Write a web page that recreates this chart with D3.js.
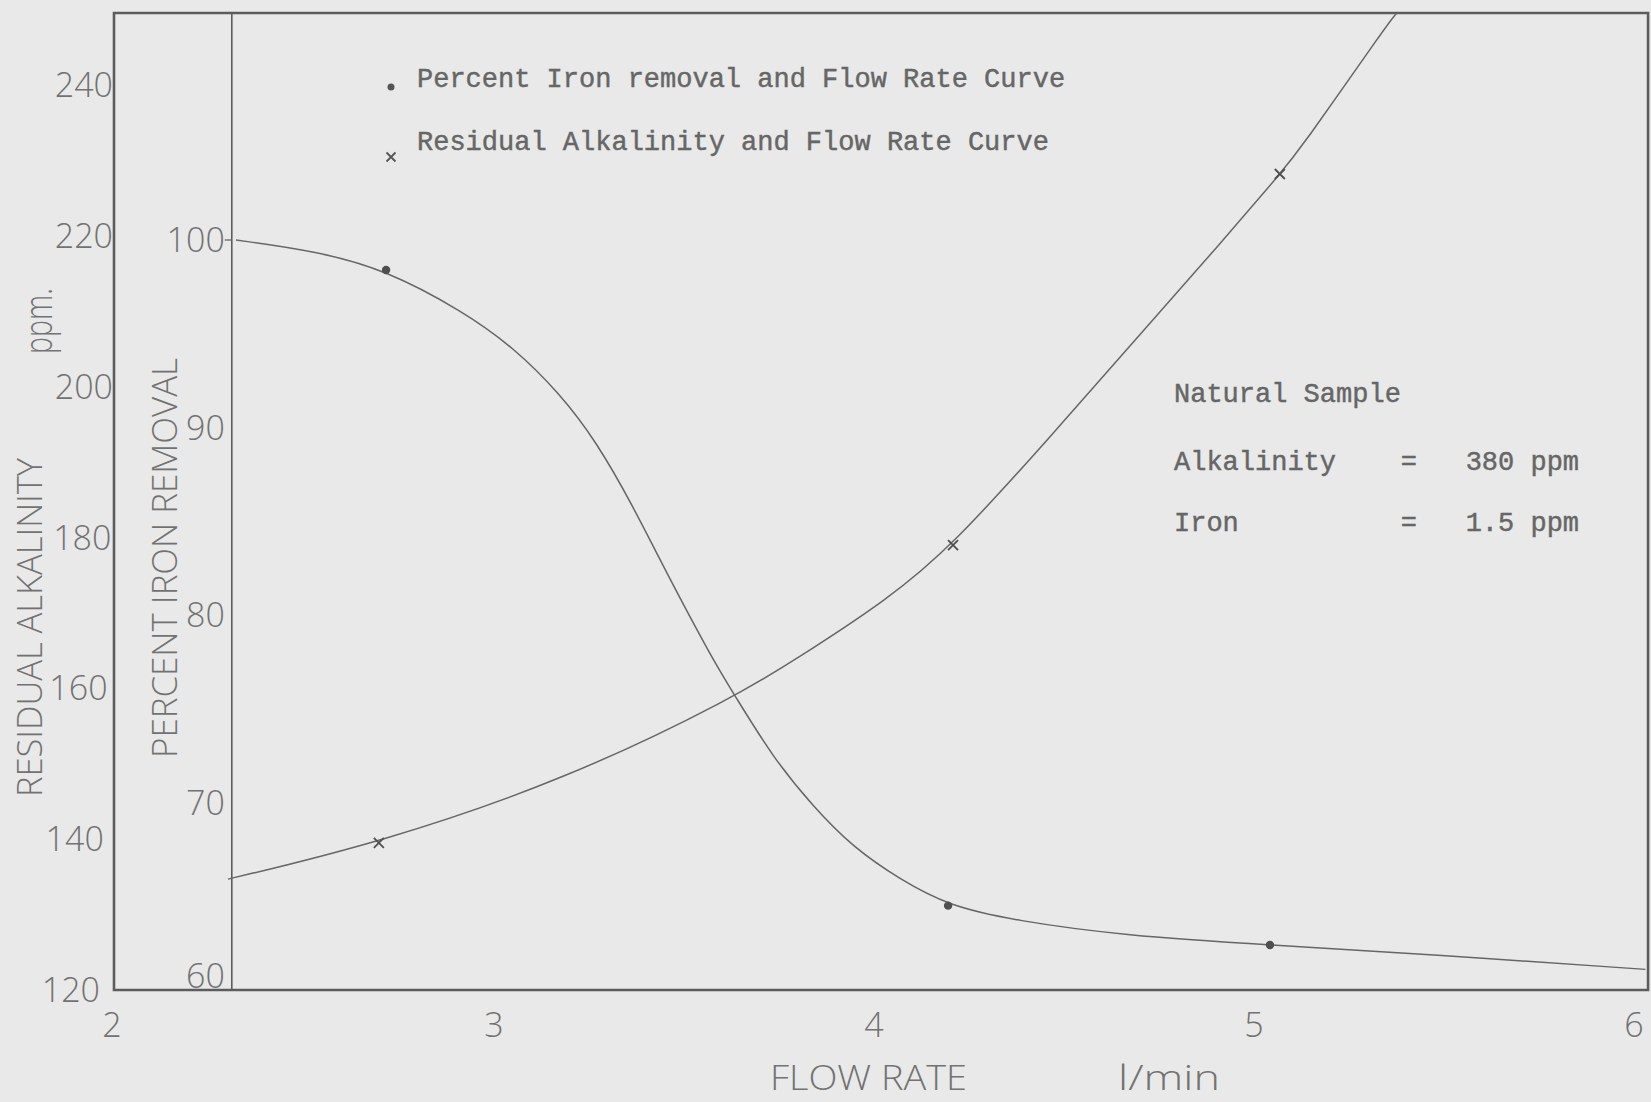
<!DOCTYPE html>
<html>
<head>
<meta charset="utf-8">
<script src="https://cdn.jsdelivr.net/npm/d3@7"></script>
<style>
  html, body { margin: 0; padding: 0; background: #e9e9e9; }
  svg { display: block; }
  .tw { font-family: "Liberation Mono", "DejaVu Sans Mono", monospace; font-size: 27px; fill: #666; stroke: #666; stroke-width: 0.45px; white-space: pre; }
  .lt { font-family: "Open Sans", "Liberation Sans", sans-serif; font-weight: 300; fill: #727272; }
</style>
</head>
<body>
<script>
// ---- data ----
const flowTicks = [2, 3, 4, 5, 6];
const alkTicks = [120, 140, 160, 180, 200, 220, 240];
const ironTicks = [60, 70, 80, 90, 100];

// measured points (markers)
const ironFlow = [2.716, 4.195, 5.042];
const ironPct = [98.4, 64.5, 62.4];
const alkFlow = [2.697, 4.208, 5.068];
const alkVal = [139.5, 179.0, 228.2];

// traced smooth curves
const ironCurveFlow = [2.321, 2.534, 2.716, 2.918, 3.05, 3.174, 3.271, 3.366, 3.445, 3.576, 3.634, 3.734, 3.839, 3.945, 4.068, 4.195, 4.371, 4.658, 5.042, 5.458, 6.03];
const ironCurvePct  = [100, 99.4, 98.4, 96.2, 94.3, 91.8, 89.2, 85.8, 82.6, 77.6, 75.7, 72.4, 69.8, 67.6, 65.9, 64.5, 63.7, 62.9, 62.4, 61.9, 61.1];
const alkCurveFlow = [2.30, 2.697, 3.189, 3.637, 3.805, 4.034, 4.208, 4.463, 4.726, 4.903, 5.068, 5.121, 5.35, 5.375];
const alkCurveVal  = [134.7, 139.5, 147.9, 158.9, 164.2, 171.7, 179.0, 193.3, 208.4, 218.5, 228.2, 231.4, 248.0, 249.5];

const legendItems = ["Percent Iron removal and Flow Rate Curve", "Residual Alkalinity and Flow Rate Curve"];
const sampleLines = ["Natural Sample", "Alkalinity    =   380 ppm", "Iron          =   1.5 ppm"];

const innerAxisFlow = 2.31;
const frameRightFlow = 6.037;

// ---- layout ----
const W = 1651, H = 1102;
const svg = d3.select("body").append("svg").attr("width", W).attr("height", H);
svg.append("rect").attr("width", W).attr("height", H).attr("fill", "#e9e9e9");

const x = d3.scaleLinear().domain([2, 6]).range([114, 1634]);
const yAlk = d3.scaleLinear().domain([120, 240]).range([990, 85]);
const yIron = d3.scaleLinear().domain([60, 100]).range([990, 240]);
const frameTop = 13;

const ink = "#5c5c5c";
const curveInk = "#666";

// frame
const xl = x(2), xr = x(frameRightFlow), yb = yAlk(120);
svg.append("path")
  .attr("d", `M${xl},${yb} L${xl},${frameTop} L${xr},${frameTop} L${xr},${yb} Z`)
  .attr("fill", "none").attr("stroke", ink).attr("stroke-width", 2.6);
// inner (iron) axis
svg.append("line")
  .attr("x1", x(innerAxisFlow)).attr("x2", x(innerAxisFlow))
  .attr("y1", frameTop).attr("y2", yb)
  .attr("stroke", ink).attr("stroke-width", 1.6);

// x tick labels
svg.append("g").selectAll("text").data(flowTicks).join("text")
  .attr("class", "lt").attr("font-size", 34)
  .attr("x", d => x(d) + (d === 2 ? -2 : 0)).attr("y", 1037)
  .attr("text-anchor", "middle").text(d => d);

// alkalinity tick labels
svg.append("g").selectAll("text").data(alkTicks).join("text")
  .attr("class", "lt").attr("font-size", 34)
  .attr("x", d => Math.min(x(2) - 1, 100 + (d - 120) * 0.19)).attr("y", d => yAlk(d) + 12)
  .attr("text-anchor", "end").text(d => d);

// iron tick labels
svg.append("g").selectAll("text").data(ironTicks).join("text")
  .attr("class", "lt").attr("font-size", 34)
  .attr("x", x(innerAxisFlow) - 7).attr("y", d => yIron(d) + 12 - (d === 60 ? 14 : 0))
  .attr("text-anchor", "end").text(d => d);
// small tick at 100
svg.append("line")
  .attr("x1", x(innerAxisFlow) - 7).attr("x2", x(innerAxisFlow))
  .attr("y1", yIron(100)).attr("y2", yIron(100))
  .attr("stroke", ink).attr("stroke-width", 1.2);

// axis titles
svg.append("text").attr("class", "lt").attr("font-size", 34)
  .attr("x", 770).attr("y", 1090).attr("textLength", 197).attr("lengthAdjust", "spacingAndGlyphs")
  .text("FLOW RATE");
svg.append("text").attr("class", "lt").attr("font-size", 34)
  .attr("x", 1118).attr("y", 1090).attr("textLength", 102).attr("lengthAdjust", "spacingAndGlyphs")
  .text("l/min");
svg.append("text").attr("class", "lt").attr("font-size", 34)
  .attr("transform", "translate(42,797) rotate(-90)")
  .attr("textLength", 339).attr("lengthAdjust", "spacingAndGlyphs")
  .text("RESIDUAL ALKALINITY");
svg.append("text").attr("class", "lt").attr("font-size", 38)
  .attr("transform", "translate(52,354) rotate(-90)")
  .attr("textLength", 66).attr("lengthAdjust", "spacingAndGlyphs")
  .text("ppm.");
svg.append("text").attr("class", "lt").attr("font-size", 34)
  .attr("transform", "translate(177,758) rotate(-90)")
  .attr("textLength", 400).attr("lengthAdjust", "spacingAndGlyphs")
  .text("PERCENT IRON REMOVAL");

// curves
const ironLine = d3.line().x(d => x(d[0])).y(d => yIron(d[1])).curve(d3.curveBasis);
const alkLine = d3.line().x(d => x(d[0])).y(d => yAlk(d[1])).curve(d3.curveBasis);

svg.append("path").datum(d3.zip(ironCurveFlow, ironCurvePct))
  .attr("d", ironLine).attr("fill", "none").attr("stroke", curveInk).attr("stroke-width", 1.5);
svg.append("path").datum(d3.zip(alkCurveFlow, alkCurveVal))
  .attr("d", alkLine).attr("fill", "none").attr("stroke", curveInk).attr("stroke-width", 1.5);

// markers
svg.append("g").selectAll("circle").data(d3.zip(ironFlow, ironPct)).join("circle")
  .attr("cx", d => x(d[0])).attr("cy", d => yIron(d[1])).attr("r", 4.2).attr("fill", "#4f4f4f");
const cross = (cx, cy, s) => `M${cx - s},${cy - s} L${cx + s},${cy + s} M${cx - s},${cy + s} L${cx + s},${cy - s}`;
svg.append("g").selectAll("path").data(d3.zip(alkFlow, alkVal)).join("path")
  .attr("d", d => cross(x(d[0]), yAlk(d[1]), 5))
  .attr("stroke", "#4f4f4f").attr("stroke-width", 1.8).attr("fill", "none");

// legend
svg.append("circle").attr("cx", 391).attr("cy", 87).attr("r", 3.5).attr("fill", "#555");
svg.append("path").attr("d", cross(391, 157, 4.5)).attr("stroke", "#555").attr("stroke-width", 1.8);
svg.append("g").selectAll("text").data(legendItems).join("text")
  .attr("class", "tw").attr("x", 417).attr("y", (d, i) => 87 + i * 63).text(d => d);

// natural sample block
svg.append("g").selectAll("text").data(sampleLines).join("text")
  .attr("class", "tw").attr("x", 1174).attr("y", (d, i) => [402, 470, 531][i])
  .attr("xml:space", "preserve").text(d => d);
</script>
</body>
</html>
